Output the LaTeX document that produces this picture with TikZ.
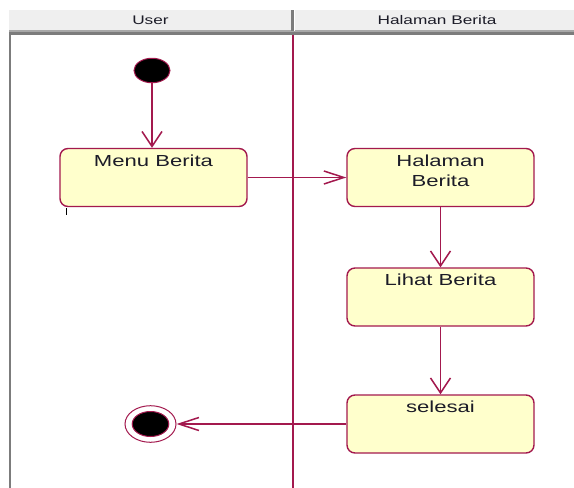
\documentclass[tikz,border=0pt]{standalone}
\usepackage{fontspec}
\setmainfont{Liberation Sans}
\usetikzlibrary{arrows.meta,shapes.geometric}

\definecolor{umlred}{HTML}{A3194E}
\definecolor{actfill}{HTML}{FFFFCC}
\definecolor{headfill}{HTML}{EFEFEF}
\definecolor{headline}{HTML}{7C7C7C}
\definecolor{headlight}{HTML}{A8A8A8}
\definecolor{inktext}{HTML}{1C1C28}

% wide, Tahoma-like lettering
\newcommand{\wtext}[1]{\scalebox{1.38}[1]{#1}}
% activity label, set at the top of its box
\newcommand{\acttext}[1]{\parbox[c][58pt][t]{180pt}{\centering\fontsize{16}{20}\selectfont\vspace*{6pt}#1}}

\begin{document}
\begin{tikzpicture}[x=1pt,y=-1pt,
  act/.style={draw=umlred, fill=actfill, line width=1.4pt, rounded corners=8pt,
    minimum width=187pt, minimum height=58pt, inner sep=0pt, text=inktext},
  startdot/.style={ellipse, draw=umlred, fill=black, line width=1pt,
    minimum width=36pt, minimum height=24.5pt, inner sep=0pt},
  endring/.style={ellipse, draw=umlred, fill=white, line width=1pt,
    minimum width=51pt, minimum height=36.6pt, inner sep=0pt},
  enddot/.style={ellipse, draw=umlred, fill=black, line width=1pt,
    minimum width=36.6pt, minimum height=25pt, inner sep=0pt},
  vflow/.style={draw=umlred, line width=1.5pt, -{Straight Barb[length=15pt,width=20pt]}},
  hflow/.style={draw=umlred, line width=1.5pt, -{Straight Barb[length=20pt,width=13pt]}},
  lanehead/.style={font=\fontsize{12.5}{14}\selectfont, text=inktext, inner sep=0pt},
]
\useasboundingbox (0,0) rectangle (574,488);
\fill[white] (0,0) rectangle (574,488);

% swimlane header band
\fill[headfill] (9,10) rectangle (574,31);
\fill[headlight] (9,30) rectangle (574,31.5);
\fill[headline] (9,31.5) rectangle (574,35);
% left frame edge
\fill[headline] (9,35) rectangle (11,488);
% header partition
\fill[headline] (290.8,10) rectangle (294,31);
\fill[white] (294,10) rectangle (295.3,31);
% lane separator
\draw[umlred, line width=1.8pt] (293.3,35) -- (293.3,488);

\node[lanehead] (hUser) at (150.5,20.5) {\wtext{User}};
\node[lanehead] (hPage) at (437,20.5) {\wtext{Halaman Berita}};

% activity nodes
\node[startdot] (start) at (152,70.5) {};
\node[act] (menu) at (153.5,177.5) {\acttext{\wtext{Menu Berita}}};
\node[act] (page) at (440.5,177.5) {\acttext{\wtext{Halaman}\\\wtext{Berita}}};
\node[act] (view) at (440.5,297) {\acttext{\wtext{Lihat Berita}}};
\node[act] (done) at (440.5,424) {\acttext{\wtext{selesai}}};
\node[endring] (stop) at (150.5,424) {};
\node[enddot] (stopdot) at (stop.center) {};

% stray caret mark below the first activity
\draw[black, line width=0.9pt] (66,208) -- (66,215);

% control flow
\draw[vflow] (start) -- (start |- menu.north);
\draw[hflow] (menu.east) -- (page.west);
\draw[vflow] (page.south) -- (view.north);
\draw[vflow] (view.south) -- (done.north);
\draw[hflow] (done.west) -- (stop);
\end{tikzpicture}
\end{document}
